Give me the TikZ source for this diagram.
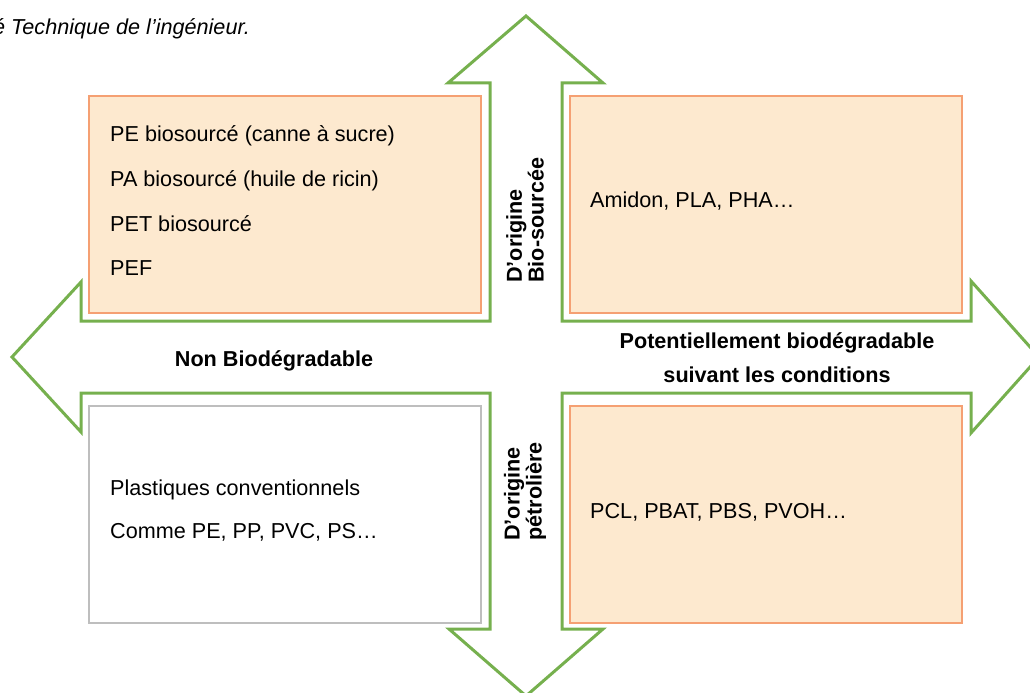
\documentclass[tikz,border=0pt]{standalone}
\usepackage{fontspec}
\setmainfont{Liberation Sans}
\usetikzlibrary{positioning}

\definecolor{boxfill}{RGB}{253,233,207}
\definecolor{boxorange}{RGB}{245,160,115}
\definecolor{boxgray}{RGB}{190,190,190}
\definecolor{crossgreen}{RGB}{118,176,78}

\begin{document}
\begin{tikzpicture}[x=1bp, y=-1bp,
        % styles
        quadrant/.style = {
                rectangle, draw=boxorange, line width=2bp, fill=boxfill,
                minimum width=392bp, minimum height=217bp,
                anchor=north west, inner sep=0pt
            },
        plainquadrant/.style = {
                quadrant, draw=boxgray, fill=white
            },
        item/.style = {
                font=\fontsize{21.7}{26}\selectfont,
                inner sep=0pt, anchor=base west
            },
        axislabel/.style = {
                font=\bfseries\fontsize{21.7}{34}\selectfont,
                inner sep=0pt, anchor=base
            },
        sidelabel/.style = {
                font=\bfseries\fontsize{21.7}{22}\selectfont,
                align=left, rotate=90, inner sep=0pt, anchor=west
            },
        crossarrow/.style ={
                draw=crossgreen, line width=3bp, line join=miter
            }]

    \useasboundingbox (0,0) rectangle (1030,693);

    % source line (cut at the left edge)
    \node (source) [item, font=\itshape\fontsize{21.7}{26}\selectfont] at (-7,35) {é Technique de l'ingénieur.};

    % the four-way arrow
    \draw [crossarrow] (526,16) -- (603,83) -- (562,83) -- (562,321) -- (971,321) -- (971,281)
        -- (1039,357) -- (971,433) -- (971,393) -- (562,393) -- (562,629) -- (603,629)
        -- (526,696) -- (449,629) -- (490,629) -- (490,393) -- (81,393) -- (81,432)
        -- (12,357) -- (81,282) -- (81,321) -- (490,321) -- (490,83) -- (448,83) -- cycle;

    % quadrants
    \node (biononbio) [quadrant] at (88,95) {};
    \node (biobio) [quadrant] at (569,95) {};
    \node (petrononbio) [plainquadrant] at (88,405) {};
    \node (petrobio) [quadrant] at (569,405) {};

    % top left
    \node (pe) [item] at (110,142) {PE biosourcé (canne à sucre)};
    \node (pa) [item] at (110,186.5) {PA biosourcé (huile de ricin)};
    \node (pet) [item] at (110,231) {PET biosourcé};
    \node (pef) [item] at (110,275) {PEF};

    % top right
    \node (amidon) [item] at (590,207) {Amidon, PLA, PHA…};

    % bottom left
    \node (conv) [item] at (110,495) {Plastiques conventionnels};
    \node (comme) [item] at (110,538) {Comme PE, PP, PVC, PS…};

    % bottom right
    \node (pcl) [item] at (590,518) {PCL, PBAT, PBS, PVOH…};

    % axis labels
    \node (nonbio) [axislabel] at (274,366) {Non Biodégradable};
    \node (potbio) [axislabel] at (777,348) {Potentiellement biodégradable};
    \node (suivant) [axislabel] at (777,382) {suivant les conditions};
    \node (biosrc) [sidelabel] at (525,283) {D'origine\\Bio-sourcée};
    \node (petro) [sidelabel] at (525,541) {D'origine\\pétrolière};

\end{tikzpicture}
\end{document}
